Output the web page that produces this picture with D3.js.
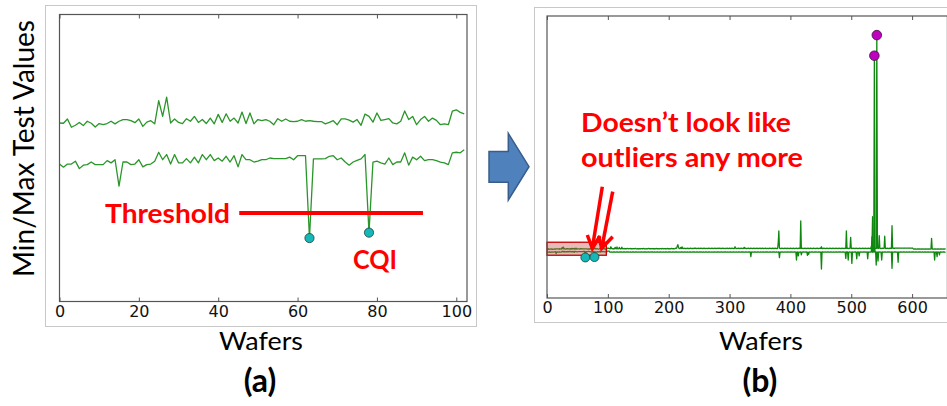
<!DOCTYPE html>
<html>
<head>
<meta charset="utf-8">
<script src="https://cdn.jsdelivr.net/npm/d3@7"></script>
<style>
body { margin: 0; background: #fff; }
svg { display: block; }
</style>
</head>
<body>
<script>
// ---- data ----
// panel (a): wafers 0..102, max and min test values
var maxA = [6.22,6.21,6.36,6.07,6.14,6.24,6.13,6.28,6.21,6.08,
    6.20,6.16,6.20,6.28,6.19,6.28,6.34,6.34,6.30,6.23,
    6.36,6.10,6.25,6.30,6.19,7.00,6.45,7.12,6.22,6.36,
    6.24,6.20,6.37,6.28,6.45,6.24,6.34,6.20,6.39,6.19,
    6.52,6.24,6.54,6.28,6.39,6.22,6.60,6.20,6.57,6.19,
    6.34,6.30,6.34,6.28,6.16,6.37,6.28,6.36,6.28,6.27,
    6.28,6.34,6.28,6.30,6.28,6.27,6.27,6.19,6.24,6.30,
    6.16,6.36,6.36,6.32,6.25,6.34,6.14,6.53,6.45,6.25,
    6.57,6.31,6.34,6.37,6.22,6.19,6.28,6.64,6.34,6.45,
    6.16,6.34,6.45,6.28,6.39,6.31,6.16,6.19,6.16,6.63,
    6.68,6.59,6.54];
var minA = [4.79,4.68,4.79,4.79,4.89,4.63,4.75,4.77,4.86,4.77,
    4.77,4.77,4.91,4.83,4.94,4.02,4.86,4.86,4.77,4.79,
    4.94,4.69,4.77,4.79,4.89,5.20,4.94,5.12,4.79,5.12,
    4.83,4.83,4.98,4.83,5.03,4.83,5.12,4.94,5.12,4.91,
    5.00,4.89,5.06,4.86,5.08,4.69,5.12,4.94,4.94,4.86,
    4.89,4.94,4.94,5.00,4.98,4.98,4.98,4.98,5.03,4.94,
    5.08,5.08,5.08,2.21,4.97,4.97,4.97,4.98,5.06,5.08,
    4.94,5.00,4.86,4.75,4.86,4.92,4.97,5.12,2.40,4.86,
    4.89,4.83,4.79,5.00,4.77,4.86,4.86,5.18,4.75,5.03,
    4.94,5.06,4.91,4.94,4.94,4.91,4.86,4.83,4.77,5.18,
    5.20,5.18,5.29];
// panel (b): wafers 103..655 appended to the ones above
var maxTail = [6.4,6.3,7.3,6.4,6.5,6.3,6.4,6.2,6.4,7.0,
    6.4,6.3,7.2,6.4,6.3,6.4,7.0,6.3,6.4,6.3,
    7.1,6.4,6.3,6.4,6.5,6.3,6.4,6.3,6.4,6.5,
    6.4,6.3,6.4,6.4,6.5,6.3,6.4,6.3,6.4,6.4,
    6.3,6.4,6.5,6.4,6.3,6.3,6.4,6.2,6.4,6.3,
    6.4,6.3,6.4,6.4,6.3,6.5,6.4,6.3,6.4,6.3,
    6.3,6.4,6.3,6.4,6.5,6.4,6.3,6.4,6.3,6.4,
    6.4,6.3,6.4,6.2,6.4,6.3,6.4,6.5,6.3,6.4,
    6.3,6.4,6.3,6.4,6.4,6.3,6.5,6.4,6.3,6.4,
    6.4,6.3,6.4,6.3,6.4,6.5,6.3,6.4,6.3,6.4,
    6.3,6.4,6.5,6.4,6.3,6.4,6.3,6.4,6.6,6.5,
    6.6,7.5,8.3,7.2,6.5,6.4,6.5,7.0,6.5,7.2,
    6.5,6.4,6.6,6.5,6.4,6.5,6.4,6.5,6.6,6.4,
    6.5,6.4,6.5,6.6,6.5,6.4,6.5,6.4,6.5,6.6,
    6.5,6.6,6.5,6.4,6.5,6.5,6.6,6.4,6.5,6.5,
    6.6,6.5,6.5,6.4,6.5,6.6,6.5,6.4,6.5,6.5,
    6.5,6.4,6.5,6.6,6.5,6.5,6.4,6.5,6.6,6.5,
    6.4,6.5,6.5,6.6,6.5,6.4,6.5,6.5,6.6,6.5,
    6.5,6.6,6.5,6.4,6.5,6.5,6.6,6.5,6.4,6.5,
    6.5,6.4,6.5,6.6,6.5,6.4,6.5,6.6,6.5,6.4,
    6.5,6.6,6.5,6.5,6.4,6.5,7.3,6.6,6.5,6.4,
    6.5,6.5,6.6,6.5,6.4,6.5,6.6,6.5,6.5,6.4,
    6.5,7.0,6.5,6.6,6.5,6.4,6.5,6.5,6.6,6.5,
    6.4,6.5,6.6,6.5,6.5,6.4,6.5,6.6,6.5,6.4,
    6.5,6.5,6.6,6.5,6.4,6.5,6.5,6.6,6.5,6.4,
    6.5,6.6,6.5,6.4,6.5,6.5,6.6,6.5,6.4,6.5,
    6.5,6.4,6.5,6.6,6.5,6.5,6.4,6.5,6.6,6.5,
    6.4,6.5,6.6,6.5,6.5,6.4,6.5,9.0,14.8,6.6,
    6.5,6.4,6.5,6.6,6.5,6.5,6.4,6.5,6.6,6.5,
    6.5,6.4,6.6,6.5,6.5,6.4,6.5,6.6,6.5,6.5,
    6.4,6.5,6.6,6.5,6.4,6.5,6.5,6.6,6.5,6.4,
    6.5,6.6,6.5,6.5,19.6,6.5,6.6,6.5,6.4,6.5,
    6.5,6.6,6.5,6.4,6.5,6.5,6.6,6.5,6.4,6.5,
    6.6,6.5,6.5,6.4,6.5,6.6,6.5,6.5,6.4,6.5,
    6.5,6.6,6.5,6.4,6.5,6.5,6.6,6.5,7.3,6.5,
    6.4,6.5,6.6,6.5,6.5,6.4,6.5,6.6,6.5,6.5,
    6.4,6.5,6.6,6.5,6.5,6.4,6.5,6.6,6.5,6.5,
    6.4,6.5,6.6,6.5,6.5,6.4,6.5,6.6,6.5,6.5,
    6.4,6.5,6.6,6.5,6.5,6.4,6.5,6.6,6.5,14.8,
    6.5,6.6,6.5,6.4,6.5,6.6,11.8,6.5,6.4,6.5,
    6.6,6.5,6.5,6.4,6.5,6.6,6.5,6.5,6.4,6.5,
    6.5,6.6,6.5,6.4,6.5,6.5,6.6,6.5,6.4,6.5,
    6.6,6.5,6.5,6.4,6.5,6.6,6.5,6.5,6.4,6.5,
    7.5,6.5,21.6,6.6,6.5,6.5,6.6,6.5,6.5,108.1,
    6.6,6.5,6.5,12.6,6.6,6.5,6.4,6.5,6.6,6.5,
    6.5,6.6,12.3,6.5,6.4,6.5,6.6,6.5,6.5,6.4,
    6.6,6.5,6.6,6.5,17.3,6.6,6.5,6.6,6.5,6.6,
    6.7,6.6,6.7,6.6,6.7,6.6,6.7,6.6,6.7,6.7,
    6.6,6.7,6.7,6.6,6.7,6.6,6.7,6.7,6.6,6.7,
    6.7,6.6,6.7,6.6,6.7,6.7,6.6,6.7,6.6,6.3,
    6.2,6.3,6.2,6.3,6.2,6.2,6.3,6.2,6.3,6.2,
    6.3,6.2,6.2,6.3,6.2,6.3,6.2,6.2,6.3,6.2,
    6.3,6.2,6.2,6.3,6.2,6.3,6.2,6.2,6.3,11.3,
    6.2,6.3,6.2,6.2,6.3,6.2,6.3,6.2,6.2,6.3,
    6.2,6.3,6.2,6.2,6.3,6.2,6.3,6.2,6.2,6.3,
    6.2,6.3,6.2];
var minTail = [4.8,4.7,4.8,4.9,4.8,4.7,4.8,4.8,4.9,4.8,
    4.7,4.8,4.8,4.9,4.8,4.7,4.8,4.8,4.9,4.8,
    4.8,4.7,4.8,4.9,4.8,4.8,4.7,4.8,4.9,4.8,
    4.8,4.8,4.7,4.8,4.9,4.8,4.7,4.8,4.8,4.9,
    4.8,4.7,4.8,4.8,4.9,4.8,4.7,4.8,4.9,4.8,
    4.7,4.8,4.8,4.9,4.8,4.7,4.8,4.8,4.9,4.8,
    4.8,4.7,4.8,4.9,4.8,4.8,4.7,4.8,4.9,4.8,
    4.8,4.8,4.7,4.8,4.9,4.8,4.7,4.8,4.8,4.9,
    4.8,4.7,4.8,4.8,4.9,4.8,4.7,4.8,4.9,4.8,
    4.7,4.8,4.8,4.9,4.8,4.7,4.8,4.8,4.9,4.8,
    4.8,4.7,4.8,4.9,4.8,4.8,4.7,4.8,4.9,4.8,
    4.8,4.8,4.7,4.8,4.9,4.8,4.7,4.8,4.8,4.9,
    4.8,4.7,4.8,4.8,4.9,4.8,4.7,4.8,4.9,4.8,
    4.7,4.8,4.8,4.9,4.8,4.7,4.8,4.8,4.9,4.8,
    4.8,4.7,4.8,4.9,4.8,4.8,4.7,4.8,4.9,4.8,
    4.8,4.8,4.7,4.8,4.9,4.8,4.7,4.8,4.8,4.9,
    4.8,4.7,4.8,4.8,4.9,4.8,4.7,4.8,4.9,4.8,
    4.7,4.8,4.8,4.9,4.8,4.7,4.8,4.8,4.9,4.8,
    4.8,4.7,4.8,4.9,4.8,4.8,4.7,4.8,4.9,4.8,
    4.8,4.8,4.7,4.8,4.9,4.8,4.7,4.8,4.8,4.9,
    4.8,4.7,4.8,4.8,4.9,4.8,4.7,4.8,4.9,4.8,
    4.7,4.8,4.8,4.9,4.8,4.7,4.8,4.8,4.9,4.8,
    4.8,4.7,4.8,4.9,4.8,4.8,4.7,4.8,4.9,4.8,
    4.8,4.8,2.6,4.8,4.9,4.8,4.7,4.8,4.8,4.9,
    4.8,4.7,4.8,4.8,4.9,4.8,4.7,4.8,4.9,4.8,
    4.7,4.8,4.8,4.9,4.8,4.7,4.8,4.8,4.9,4.8,
    4.8,4.7,4.8,4.9,4.8,4.8,4.7,4.8,4.9,4.8,
    4.8,4.8,4.7,4.8,4.9,4.8,4.7,4.8,4.8,2.1,
    4.8,4.7,4.8,4.8,4.9,4.8,4.7,4.8,4.9,4.8,
    4.7,4.8,4.8,4.9,4.8,4.7,4.8,4.8,4.9,4.8,
    4.8,4.7,4.8,4.9,4.8,4.8,4.7,1.0,4.9,4.8,
    3.0,4.8,4.7,4.8,4.9,3.5,4.7,4.8,4.8,4.9,
    4.8,4.7,4.8,4.8,4.9,3.2,4.7,3.7,4.9,4.8,
    4.7,4.8,4.8,4.9,4.8,4.7,4.8,4.8,4.9,4.8,
    4.8,4.7,4.8,4.9,4.8,4.8,4.7,4.8,-3.3,4.8,
    4.8,4.8,4.7,4.8,4.9,4.8,4.7,4.8,4.8,4.9,
    4.8,4.7,4.8,4.8,4.9,4.8,4.7,4.8,4.9,4.8,
    4.7,4.8,4.8,4.9,4.8,4.7,4.8,4.8,4.9,4.8,
    4.8,4.7,4.8,4.9,4.8,4.8,4.7,4.8,1.8,4.8,
    4.8,4.8,1.0,4.8,4.9,4.8,4.7,4.8,-0.6,4.9,
    4.8,4.7,4.8,4.8,4.9,4.8,1.6,4.8,4.9,4.8,
    3.0,4.8,4.8,4.9,4.8,4.7,4.8,4.8,4.9,4.8,
    4.8,4.7,4.8,4.9,1.6,4.8,4.7,4.8,4.9,4.8,
    4.8,12.0,4.7,4.8,4.9,98.3,4.7,4.8,-1.4,4.9,
    4.8,0.5,4.8,4.8,4.9,4.8,4.7,1.0,4.9,4.8,
    4.7,4.8,4.8,4.9,4.8,4.7,4.8,4.8,4.9,4.8,
    4.8,4.7,4.8,4.9,-3.0,4.8,4.7,4.8,4.9,4.8,
    4.8,4.8,4.7,4.8,-0.1,4.8,4.7,4.8,4.8,4.9,
    4.8,4.7,4.8,4.8,4.9,4.8,4.7,4.8,4.9,4.8,
    4.7,4.8,4.8,4.9,4.8,4.7,4.8,4.8,4.9,4.8,
    4.8,4.7,4.8,4.9,4.8,4.8,4.7,4.8,4.9,4.8,
    4.8,4.8,4.7,4.8,4.9,4.8,4.7,4.8,4.8,4.9,
    4.8,4.7,4.8,4.8,4.9,4.8,4.7,4.8,4.9,4.8,
    4.7,4.8,4.8,4.9,1.0,4.7,4.8,4.8,2.6,4.8,
    4.8,4.7,3.5,4.9,4.8,4.8,4.7,4.8,4.9,4.8,
    4.8,4.7,4.8];

var cqiWafers = [63, 78];          // cyan points, on the min series
var bigMinWafers = [538];          // magenta points in (b)
var bigMaxWafers = [542];
var threshold = {value: 3.08, from: 45.3, to: 91.6};
var zoomBox = {from: 0, to: 97.5, lo: 0, hi: 6.6};   // red box in (b)
var ticksA = [0, 20, 40, 60, 80, 100];
var ticksB = [0, 100, 200, 300, 400, 500, 600];

var maxB = maxA.concat(maxTail);
var minB = minA.concat(minTail);

// ---- stage ----
var width = 947, height = 406;
var svg = d3.select('body').append('svg')
    .attr('width', width).attr('height', height);

var green = '#0f870f';
var tickFont = '"DejaVu Sans", sans-serif';
var labelFont = 'Lato, "Open Sans", sans-serif';

// outer light frames of the two screenshots
svg.append('rect').attr('x', 45.5).attr('y', 5.5).attr('width', 431).attr('height', 321)
    .attr('fill', 'none').attr('stroke', '#c8c8c8');
svg.append('rect').attr('x', 534.5).attr('y', 7.5).attr('width', 430).attr('height', 315)
    .attr('fill', 'none').attr('stroke', '#c8c8c8');

// ---- panel (a) ----
var xA = d3.scaleLinear().domain([0, 102.7]).range([59.5, 467]);
var yA = d3.scaleLinear().domain([0, 10]).range([301.5, 14.5]);

function frame(x, y) {
    var g = svg.append('g');
    g.append('rect')
        .attr('x', x.range()[0]).attr('y', y.range()[1])
        .attr('width', x.range()[1] - x.range()[0])
        .attr('height', y.range()[0] - y.range()[1])
        .attr('fill', 'none').attr('stroke', '#555').attr('stroke-width', 1.2);
    return g;
}

function axes(x, y, ticks, pad) {
    var bottom = svg.append('g')
        .attr('transform', 'translate(0,' + y.range()[0] + ')')
        .call(d3.axisBottom(x).tickValues(ticks).tickSize(-4).tickPadding(pad));
    bottom.select('.domain').remove();
    bottom.selectAll('line').attr('stroke', '#555');
    bottom.selectAll('text').attr('font-family', tickFont).attr('font-size', 16).attr('fill', '#111');
    var top = svg.append('g')
        .attr('transform', 'translate(0,' + y.range()[1] + ')')
        .call(d3.axisTop(x).tickValues(ticks).tickSize(-4).tickFormat(''));
    top.select('.domain').remove();
    top.selectAll('line').attr('stroke', '#555');
}

var lineA = d3.line().x(function (d, i) { return xA(i); }).y(function (d) { return yA(d); });

svg.append('g').selectAll('path').data([maxA, minA]).enter().append('path')
    .attr('d', lineA)
    .attr('fill', 'none').attr('stroke', '#2a962a').attr('stroke-width', 1.3)
    .attr('stroke-linejoin', 'round');

// threshold line and labels
svg.append('line')
    .attr('x1', xA(threshold.from)).attr('x2', xA(threshold.to))
    .attr('y1', yA(threshold.value)).attr('y2', yA(threshold.value))
    .attr('stroke', '#ff0000').attr('stroke-width', 4);

svg.append('g').selectAll('circle').data(cqiWafers).enter().append('circle')
    .attr('cx', function (d) { return xA(d); })
    .attr('cy', function (d) { return yA(minA[d]); })
    .attr('r', 4.6)
    .attr('fill', '#14b8b8').attr('stroke', '#1d3f3f').attr('stroke-width', 0.8);

frame(xA, yA);
axes(xA, yA, ticksA, 4);

function redText(t, x, y, len) {
    svg.append('text').text(t)
        .attr('x', x).attr('y', y)
        .attr('font-family', labelFont).attr('font-weight', 'bold')
        .attr('font-size', 26).attr('fill', '#ff0000')
        .attr('textLength', len).attr('lengthAdjust', 'spacingAndGlyphs');
}
redText('Threshold', 105, 223, 125);
redText('CQI', 353, 269, 44);

// ---- panel (b) ----
var xB = d3.scaleLinear().domain([0, 658]).range([547, 947.4]);
var yB = d3.scaleLinear().domain([-17.1, 117.2]).range([298, 16]);

svg.append('clipPath').attr('id', 'clipB').append('rect')
    .attr('x', 547).attr('y', 16).attr('width', 401).attr('height', 282);

var lineB = d3.line().x(function (d, i) { return xB(i); }).y(function (d) { return yB(d); });

svg.append('g').attr('clip-path', 'url(#clipB)')
    .selectAll('path').data([maxB, minB]).enter().append('path')
    .attr('d', lineB)
    .attr('fill', 'none').attr('stroke', green).attr('stroke-width', 1.3)
    .attr('stroke-linejoin', 'round');

// red box around the wafers of panel (a)
svg.append('rect')
    .attr('x', xB(zoomBox.from)).attr('y', yB(zoomBox.hi) - 6)
    .attr('width', xB(zoomBox.to) - xB(zoomBox.from))
    .attr('height', 13)
    .attr('fill', 'rgba(200,70,70,0.38)').attr('stroke', '#c00000').attr('stroke-width', 1.3);

svg.append('g').selectAll('circle').data(cqiWafers).enter().append('circle')
    .attr('cx', function (d) { return xB(d); })
    .attr('cy', function (d) { return yB(minB[d]); })
    .attr('r', 4.5)
    .attr('fill', '#14b8b8').attr('stroke', '#1d3f3f').attr('stroke-width', 0.8);

var big = bigMinWafers.map(function (w) { return [w, minB[w]]; })
    .concat(bigMaxWafers.map(function (w) { return [w, maxB[w]]; }));
svg.append('g').selectAll('circle').data(big).enter().append('circle')
    .attr('cx', function (d) { return xB(d[0]); })
    .attr('cy', function (d) { return yB(d[1]); })
    .attr('r', 4.8)
    .attr('fill', '#bf00bf').attr('stroke', '#3a103a').attr('stroke-width', 0.8);

frame(xB, yB);
axes(xB, yB, ticksB, 3.5);

redText('Doesn\u2019t look like', 581, 132, 210);
redText('outliers any more', 581, 167, 222);

// two red arrows pointing at the cyan points
var arrows = [
    {from: [602.3, 186.7], to: [592.3, 248.3], l: [587.3, 235], r: [600, 236]},
    {from: [612.7, 191.7], to: [601.7, 248.3], l: [598.7, 236], r: [612.7, 236.7]}
];
arrows.forEach(function (a) {
    svg.append('line')
        .attr('x1', a.from[0]).attr('y1', a.from[1]).attr('x2', a.to[0]).attr('y2', a.to[1])
        .attr('stroke', '#ff0000').attr('stroke-width', 3.5);
    svg.append('polyline')
        .attr('points', [a.l, a.to, a.r].map(function (p) { return p.join(','); }).join(' '))
        .attr('fill', 'none').attr('stroke', '#ff0000').attr('stroke-width', 3.5)
        .attr('stroke-linejoin', 'miter');
});

// blue block arrow between the panels
svg.append('polygon')
    .attr('points', '489,151.5 508.3,151.5 508.3,133.3 529,166.7 508.3,200 508.3,182.3 489,182.3')
    .attr('fill', '#4f81bd').attr('stroke', '#385d8a').attr('stroke-width', 1.5);

// ---- axis titles ----
svg.append('text').text('Min/Max Test Values')
    .attr('transform', 'translate(34,148.5) rotate(-90)')
    .attr('text-anchor', 'middle')
    .attr('font-family', labelFont).attr('font-size', 29).attr('fill', '#000')
    .attr('textLength', 257).attr('lengthAdjust', 'spacingAndGlyphs');

[[261, 'Wafers', '(a)'], [761, 'Wafers', '(b)']].forEach(function (p) {
    svg.append('text').text(p[1])
        .attr('x', p[0]).attr('y', 350).attr('text-anchor', 'middle')
        .attr('font-family', labelFont).attr('font-size', 25).attr('fill', '#000')
        .attr('textLength', 84).attr('lengthAdjust', 'spacingAndGlyphs');
    svg.append('text').text(p[2])
        .attr('x', p[0] - 1).attr('y', 391.5).attr('text-anchor', 'middle')
        .attr('font-family', labelFont).attr('font-weight', 'bold')
        .attr('font-size', 32).attr('fill', '#000');
});
</script>
</body>
</html>
